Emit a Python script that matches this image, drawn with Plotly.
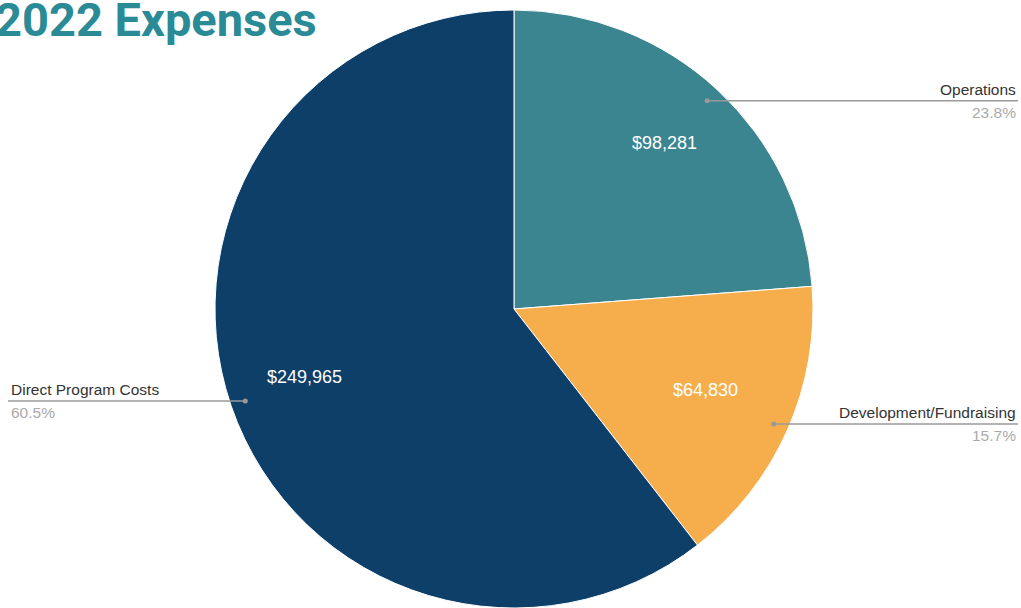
import math
import plotly.graph_objects as go

categories = ["Operations", "Development/Fundraising", "Direct Program Costs"]
values = [98281, 64830, 249965]
colors = ["#3A8590", "#F6AE4D", "#0D3F69"]
title_text = "2022 Expenses"

W, H = 1021, 608
cx, cy, R = 514, 309, 299  # pie geometry in pixels

dom_x = [(cx - R) / W, (cx + R) / W]
dom_y = [1 - (cy + R) / H, 1 - (cy - R) / H]

fig = go.Figure(go.Pie(
    labels=categories, values=values, sort=False, direction="clockwise",
    rotation=0, marker=dict(colors=colors, line=dict(color="white", width=1)),
    textinfo="none", hoverinfo="label+value+percent", showlegend=False,
    domain=dict(x=dom_x, y=dom_y),
))

def px(x):
    return x / W

def py(y):
    return 1 - y / H

total = sum(values)
annotations = []
shapes = []
cum = 0
for i, (lab, v) in enumerate(zip(categories, values)):
    frac = v / total
    mid = (cum + frac / 2) * 2 * math.pi
    cum += frac
    s, c = math.sin(mid), -math.cos(mid)
    # value label inside
    rr = 0.74 if i != 1 else 0.70
    vx, vy = cx + rr * R * s, cy + rr * R * c
    annotations.append(dict(x=px(vx), y=py(vy - 4), xref="paper", yref="paper",
                            text=f"${v:,}", showarrow=False,
                            font=dict(family="Liberation Sans, Arial", size=18, color="white"),
                            xanchor="center", yanchor="middle"))
    # leader dot and line
    dx, dy = cx + 0.95 * R * s, cy + 0.95 * R * c
    shapes.append(dict(type="circle", xref="paper", yref="paper",
                       x0=px(dx - 2.5), x1=px(dx + 2.5), y0=py(dy - 2.5), y1=py(dy + 2.5),
                       fillcolor="#999999", line=dict(width=0)))
    if s >= 0:
        ex = 1018
        anchor = "right"
    else:
        ex = 8
        anchor = "left"
    shapes.append(dict(type="line", xref="paper", yref="paper",
                       x0=px(dx), x1=px(ex), y0=py(dy), y1=py(dy),
                       line=dict(color="#9a9a9a", width=1.5)))
    tx = 1018 if anchor == "right" else 9
    annotations.append(dict(x=px(tx), y=py(dy - 1), xref="paper", yref="paper",
                            text=lab, showarrow=False,
                            font=dict(family="Liberation Sans, Arial", size=15.5, color="#333333"),
                            xanchor=anchor, yanchor="bottom"))
    annotations.append(dict(x=px(tx), y=py(dy + 1), xref="paper", yref="paper",
                            text=f"{frac*100:.1f}%", showarrow=False,
                            font=dict(family="Liberation Sans, Arial", size=15.5, color="#aaaaaa"),
                            xanchor=anchor, yanchor="top"))

annotations.append(dict(x=px(319), y=py(-10), xref="paper", yref="paper",
                        text=f"<b>{title_text}</b>", showarrow=False,
                        font=dict(family="Roboto", size=47, color="#2A8A96"),
                        xanchor="right", yanchor="top"))

fig.update_layout(width=W, height=H, margin=dict(l=0, r=0, t=0, b=0),
                  paper_bgcolor="white", plot_bgcolor="white",
                  annotations=annotations, shapes=shapes)

fig.write_html("out.html", config={"displayModeBar": False},
               post_script="document.body.style.margin='0px';document.body.style.overflow='hidden';")
